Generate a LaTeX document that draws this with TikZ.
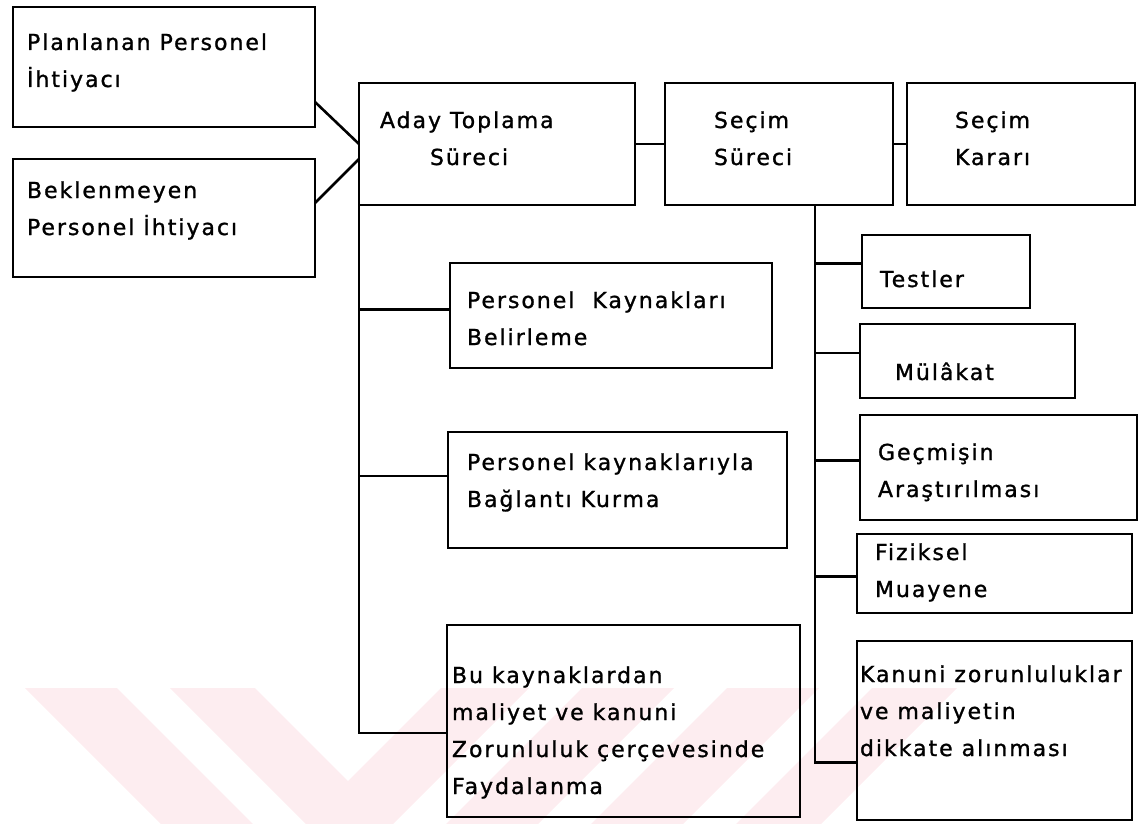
\documentclass[tikz,border=0pt]{standalone}
\usepackage{fontspec}
\newfontfamily\pixfont{DejaVu Sans}[LetterSpace=9,FakeBold=1.2]
\usetikzlibrary{calc}
\definecolor{wm}{RGB}{253,237,240}
\newcommand\mybox[5]{\node[box,minimum width={(#4)-(#2)},minimum height={(#5)-(#3)}] (#1) at ({((#2)+(#4))/2},{((#3)+(#5))/2}) {};}
\newcommand\mylbl[4]{\node[lbl] (#1) at (#2,{(#3)-20}) {\rule{0pt}{20pt}#4};}
\begin{document}
\begin{tikzpicture}[x=1pt,y=-1pt,
  box/.style={draw,line width=2.6pt,inner sep=0pt,outer sep=0pt},
  lbl/.style={anchor=north west,inner sep=0pt,outer sep=0pt,align=left,
    font=\pixfont\fontsize{22}{37}\selectfont},
  conn/.style={line width=2.6pt}]
\useasboundingbox (0,0) rectangle (1143,824);
% watermark
\fill[wm] (25,688) -- (117,688) -- (253,824) -- (161,824) -- cycle;
\fill[wm] (170,688) -- (255,688) -- (348,781) -- (441,688) -- (529,688) -- (393,824) -- (306,824) -- cycle;
\fill[wm] (582,688) -- (674,688) -- (538,824) -- (446,824) -- cycle;
\fill[wm] (727,688) -- (819,688) -- (683,824) -- (591,824) -- cycle;
\fill[wm] (872,688) -- (957,688) -- (821,824) -- (736,824) -- cycle;
% boxes
\mybox{b1}{13}{7}{315}{127}
\mybox{b2}{13}{159}{315}{277}
\mybox{aday}{359}{83}{635}{205}
\mybox{secim}{665}{83}{893}{205}
\mybox{karar}{907}{83}{1135}{205}
\mybox{pk}{450}{263}{772}{368}
\mybox{pkb}{448}{432}{787}{548}
\mybox{bu}{447}{625}{800}{817}
\mybox{testler}{862}{235}{1030}{308}
\mybox{mulakat}{860}{324}{1075}{398}
\mybox{gecmis}{860}{415}{1137}{520}
\mybox{fiz}{857}{534}{1132}{613}
\mybox{kanuni}{857}{641}{1132}{820}
% labels
\mylbl{tb1}{27}{50}{Planlanan Personel\\İhtiyacı}
\mylbl{tb2}{27}{198}{Beklenmeyen\\Personel İhtiyacı}
\mylbl{taday}{380}{128}{Aday Toplama\\\hspace*{50pt}Süreci}
\mylbl{tsecim}{714}{128}{Seçim\\Süreci}
\mylbl{tkarar}{955}{128}{Seçim\\Kararı}
\mylbl{ttestler}{880}{287}{Testler}
\mylbl{tmulakat}{895}{380}{Mülâkat}
\mylbl{tgecmis}{878}{460}{Geçmişin\\Araştırılması}
\mylbl{tfiz}{875}{560}{Fiziksel\\Muayene}
\mylbl{tkanuni}{860}{682}{Kanuni zorunluluklar\\ve maliyetin\\dikkate alınması}
\mylbl{tpk}{467}{308}{Personel\ \ Kaynakları\\Belirleme}
\mylbl{tpkb}{467}{470}{Personel kaynaklarıyla\\Bağlantı Kurma}
\mylbl{tbu}{452}{683}{Bu kaynaklardan\\maliyet ve kanuni\\Zorunluluk çerçevesinde\\Faydalanma}
% connectors
\draw[conn] ($(b1.south east)+(0,-25)$) -- (aday.west);
\draw[conn] ($(b2.north east)+(0,44)$) -- ($(aday.west)+(0,15)$);
\draw[conn] (aday.east) -- (secim.west);
\draw[conn] (secim.east) -- (karar.west);
\coordinate (pkc) at ($(pk.west)+(0,-6)$);
\coordinate (pkbc) at ($(pkb.west)+(0,-14)$);
\coordinate (buc) at ($(bu.west)+(0,12)$);
\draw[conn] (aday.south west) |- (buc);
\draw[conn] (aday.south west |- pkc) -- (pkc);
\draw[conn] (aday.south west |- pkbc) -- (pkbc);
\coordinate (rb) at ($(secim.south)+(36,0)$);
\coordinate (tc) at ($(testler.west)+(0,-8)$);
\coordinate (mc) at ($(mulakat.west)+(0,-8)$);
\coordinate (gc) at ($(gecmis.west)+(0,-7)$);
\coordinate (fc) at ($(fiz.west)+(0,3)$);
\coordinate (kc) at ($(kanuni.west)+(0,32)$);
\draw[conn] (rb) |- (kc);
\draw[conn] (rb |- tc) -- (tc);
\draw[conn] (rb |- mc) -- (mc);
\draw[conn] (rb |- gc) -- (gc);
\draw[conn] (rb |- fc) -- (fc);
\end{tikzpicture}
\end{document}
